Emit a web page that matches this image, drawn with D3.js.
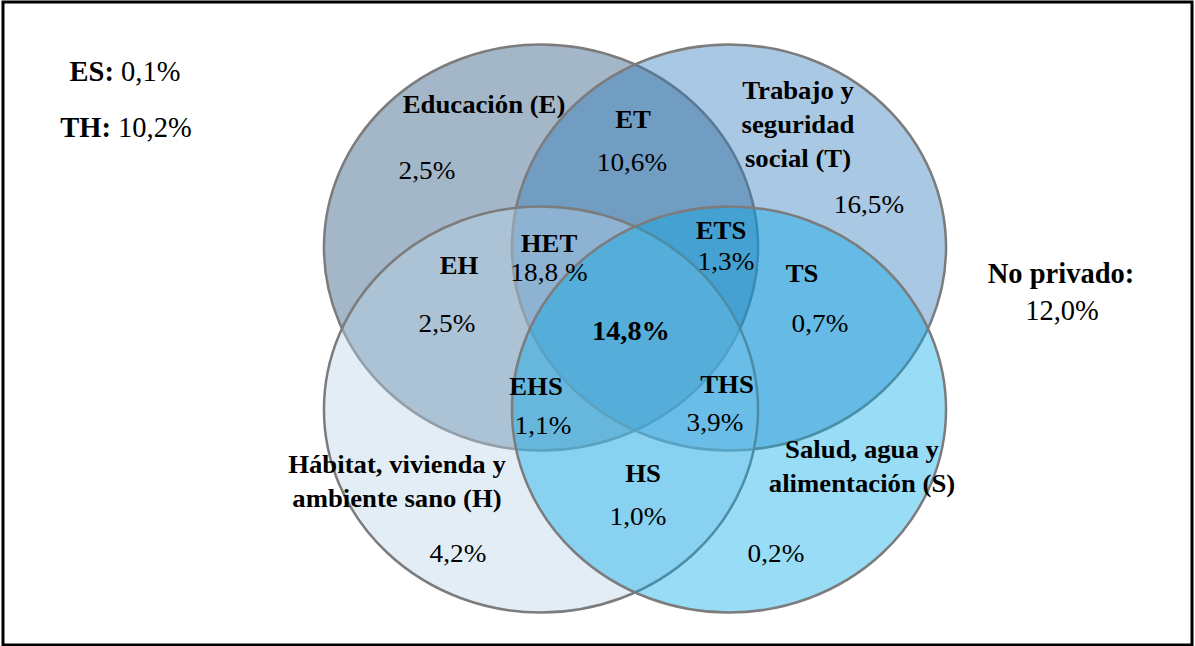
<!DOCTYPE html>
<html>
<head>
<meta charset="utf-8">
<script src="https://cdn.jsdelivr.net/npm/d3@7"></script>
<style>
  html, body { margin: 0; padding: 0; background: #ffffff; }
  svg { display: block; }
</style>
</head>
<body>
<div id="chart"></div>
<script>
// ---------------- DATA ----------------
const setCodes = ["E", "T", "H", "S"];
const setNames = [
  ["Educación (E)"],
  ["Trabajo y", "seguridad", "social (T)"],
  ["Hábitat, vivienda y", "ambiente sano (H)"],
  ["Salud, agua y", "alimentación (S)"]
];
const setOnlyValues = [2.5, 16.5, 4.2, 0.2];

const overlapCodes  = ["ET", "HET", "EH", "ETS", "TS", "EHS", "THS", "HS"];
const overlapValues = [10.6, 18.8, 2.5, 1.3, 0.7, 1.1, 3.9, 1.0];

const allFourValue = 14.8;

const sideCodes  = ["ES", "TH"];
const sideValues = [0.1, 10.2];

const notDeprivedLabel = "No privado:";
const notDeprivedValue = 12.0;

// ---------------- LAYOUT (unit space: circle centres at ±1) ----------------
const W = 1195, H = 646;
const FONT = "'Liberation Serif', 'Times New Roman', Times, serif";
const x = d3.scaleLinear().domain([-1, 1]).range([541, 729]);
const y = d3.scaleLinear().domain([-1, 1]).range([247.5, 409.5]);
const unitRx = 2.309, unitRy = 2.506;

const setLayout = [
  { cx: -1, cy: -1, color: "rgb(25,75,120)",  nameAt: [-1.606, -2.660], valAt: [-2.213, -1.846] },
  { cx:  1, cy: -1, color: "rgb(40,117,185)", nameAt: [ 1.734, -2.833], valAt: [ 2.489, -1.426] },
  { cx: -1, cy:  1, color: "rgb(185,210,232)",nameAt: [-2.532,  1.784], valAt: [-1.883,  2.883] },
  { cx:  1, cy:  1, color: "rgb(0,168,232)",  nameAt: [ 2.415,  1.599], valAt: [ 1.500,  2.883] }
];
const overlapLayout = [
  { codeAt: [-0.021, -2.475], valAt: [-0.032, -1.944], sep: "" },
  { codeAt: [-0.915, -0.944], valAt: [-0.915, -0.586], sep: " " },
  { codeAt: [-1.872, -0.673], valAt: [-2.000,  0.043], sep: "" },
  { codeAt: [ 0.915, -1.105], valAt: [ 0.968, -0.722], sep: "" },
  { codeAt: [ 1.777, -0.574], valAt: [ 1.968,  0.043], sep: "" },
  { codeAt: [-1.053,  0.821], valAt: [-0.979,  1.302], sep: "" },
  { codeAt: [ 0.979,  0.796], valAt: [ 0.851,  1.265], sep: "" },
  { codeAt: [ 0.085,  1.895], valAt: [ 0.032,  2.426], sep: "" }
];
const allFourAt = [-0.043, 0.142];
const sideAt = [[-5.426, -3.056], [-5.415, -2.364]];
const notDeprivedAt = [[4.532, -0.562], [4.543, -0.105]];

const fmt = v => d3.format(".1f")(v).replace(".", ",");
const pct = (v, sep = "") => fmt(v) + sep + "%";

// ---------------- DRAW ----------------
const svg = d3.select("#chart").append("svg")
  .attr("width", W).attr("height", H)
  .attr("font-family", FONT);

svg.append("rect").attr("width", W).attr("height", H).attr("fill", "#fff");

const unitToPxX = u => x(u) - x(0);
const unitToPxY = v => y(v) - y(0);

// ellipses, drawn in order E, T, H, S with translucent fill
svg.append("g").selectAll("ellipse")
  .data(setCodes.map((c, i) => ({ code: c, ...setLayout[i] })))
  .join("ellipse")
  .attr("cx", d => x(d.cx))
  .attr("cy", d => y(d.cy))
  .attr("rx", unitToPxX(unitRx))
  .attr("ry", unitToPxY(unitRy))
  .attr("fill", d => d.color)
  .attr("fill-opacity", 0.4)
  .attr("stroke", "#7c7c7c")
  .attr("stroke-width", 2.5);

const labels = svg.append("g").attr("font-family", FONT).attr("fill", "#000");
const SX = 1.07;

function addText(at, lines, opts) {
  const t = labels.append("text")
    .attr("text-anchor", "middle")
    .attr("font-family", FONT)
    .attr("font-size", opts.size)
    .attr("font-weight", opts.bold ? "bold" : "normal")
    .attr("transform", `translate(${x(at[0])},${y(at[1])}) scale(${opts.sx || 1},1)`);
  lines.forEach((l, i) => {
    t.append("tspan").attr("x", 0).attr("dy", i === 0 ? 0 : opts.lh || 34).text(l);
  });
  return t;
}

// set names and set-only values
setCodes.forEach((c, i) => {
  addText(setLayout[i].nameAt, setNames[i], { size: 25, bold: true, sx: SX, lh: 34 });
  addText(setLayout[i].valAt, [pct(setOnlyValues[i])], { size: 25.5, sx: SX });
});

// overlap regions
overlapCodes.forEach((c, i) => {
  const L = overlapLayout[i];
  addText(L.codeAt, [c], { size: 25, bold: true, sx: SX });
  addText(L.valAt, [pct(overlapValues[i], L.sep)], { size: 25.5, sx: SX });
});

// centre
addText(allFourAt, [pct(allFourValue)], { size: 26.5, bold: true, sx: SX });

// side notes (ES, TH)
sideCodes.forEach((c, i) => {
  const t = labels.append("text")
    .attr("text-anchor", "middle")
    .attr("font-family", FONT)
    .attr("font-size", 28.5)
    .attr("transform", `translate(${x(sideAt[i][0])},${y(sideAt[i][1])})`);
  t.append("tspan").attr("font-weight", "bold").text(c + ":");
  t.append("tspan").text(" " + pct(sideValues[i]));
});

// not deprived
addText(notDeprivedAt[0], [notDeprivedLabel], { size: 28.5, bold: true });
addText(notDeprivedAt[1], [pct(notDeprivedValue)], { size: 28.5 });

// frame
svg.append("rect")
  .attr("x", 3).attr("y", 2)
  .attr("width", 1189).attr("height", 643)
  .attr("fill", "none")
  .attr("stroke", "#000")
  .attr("stroke-width", 3);
</script>
</body>
</html>
